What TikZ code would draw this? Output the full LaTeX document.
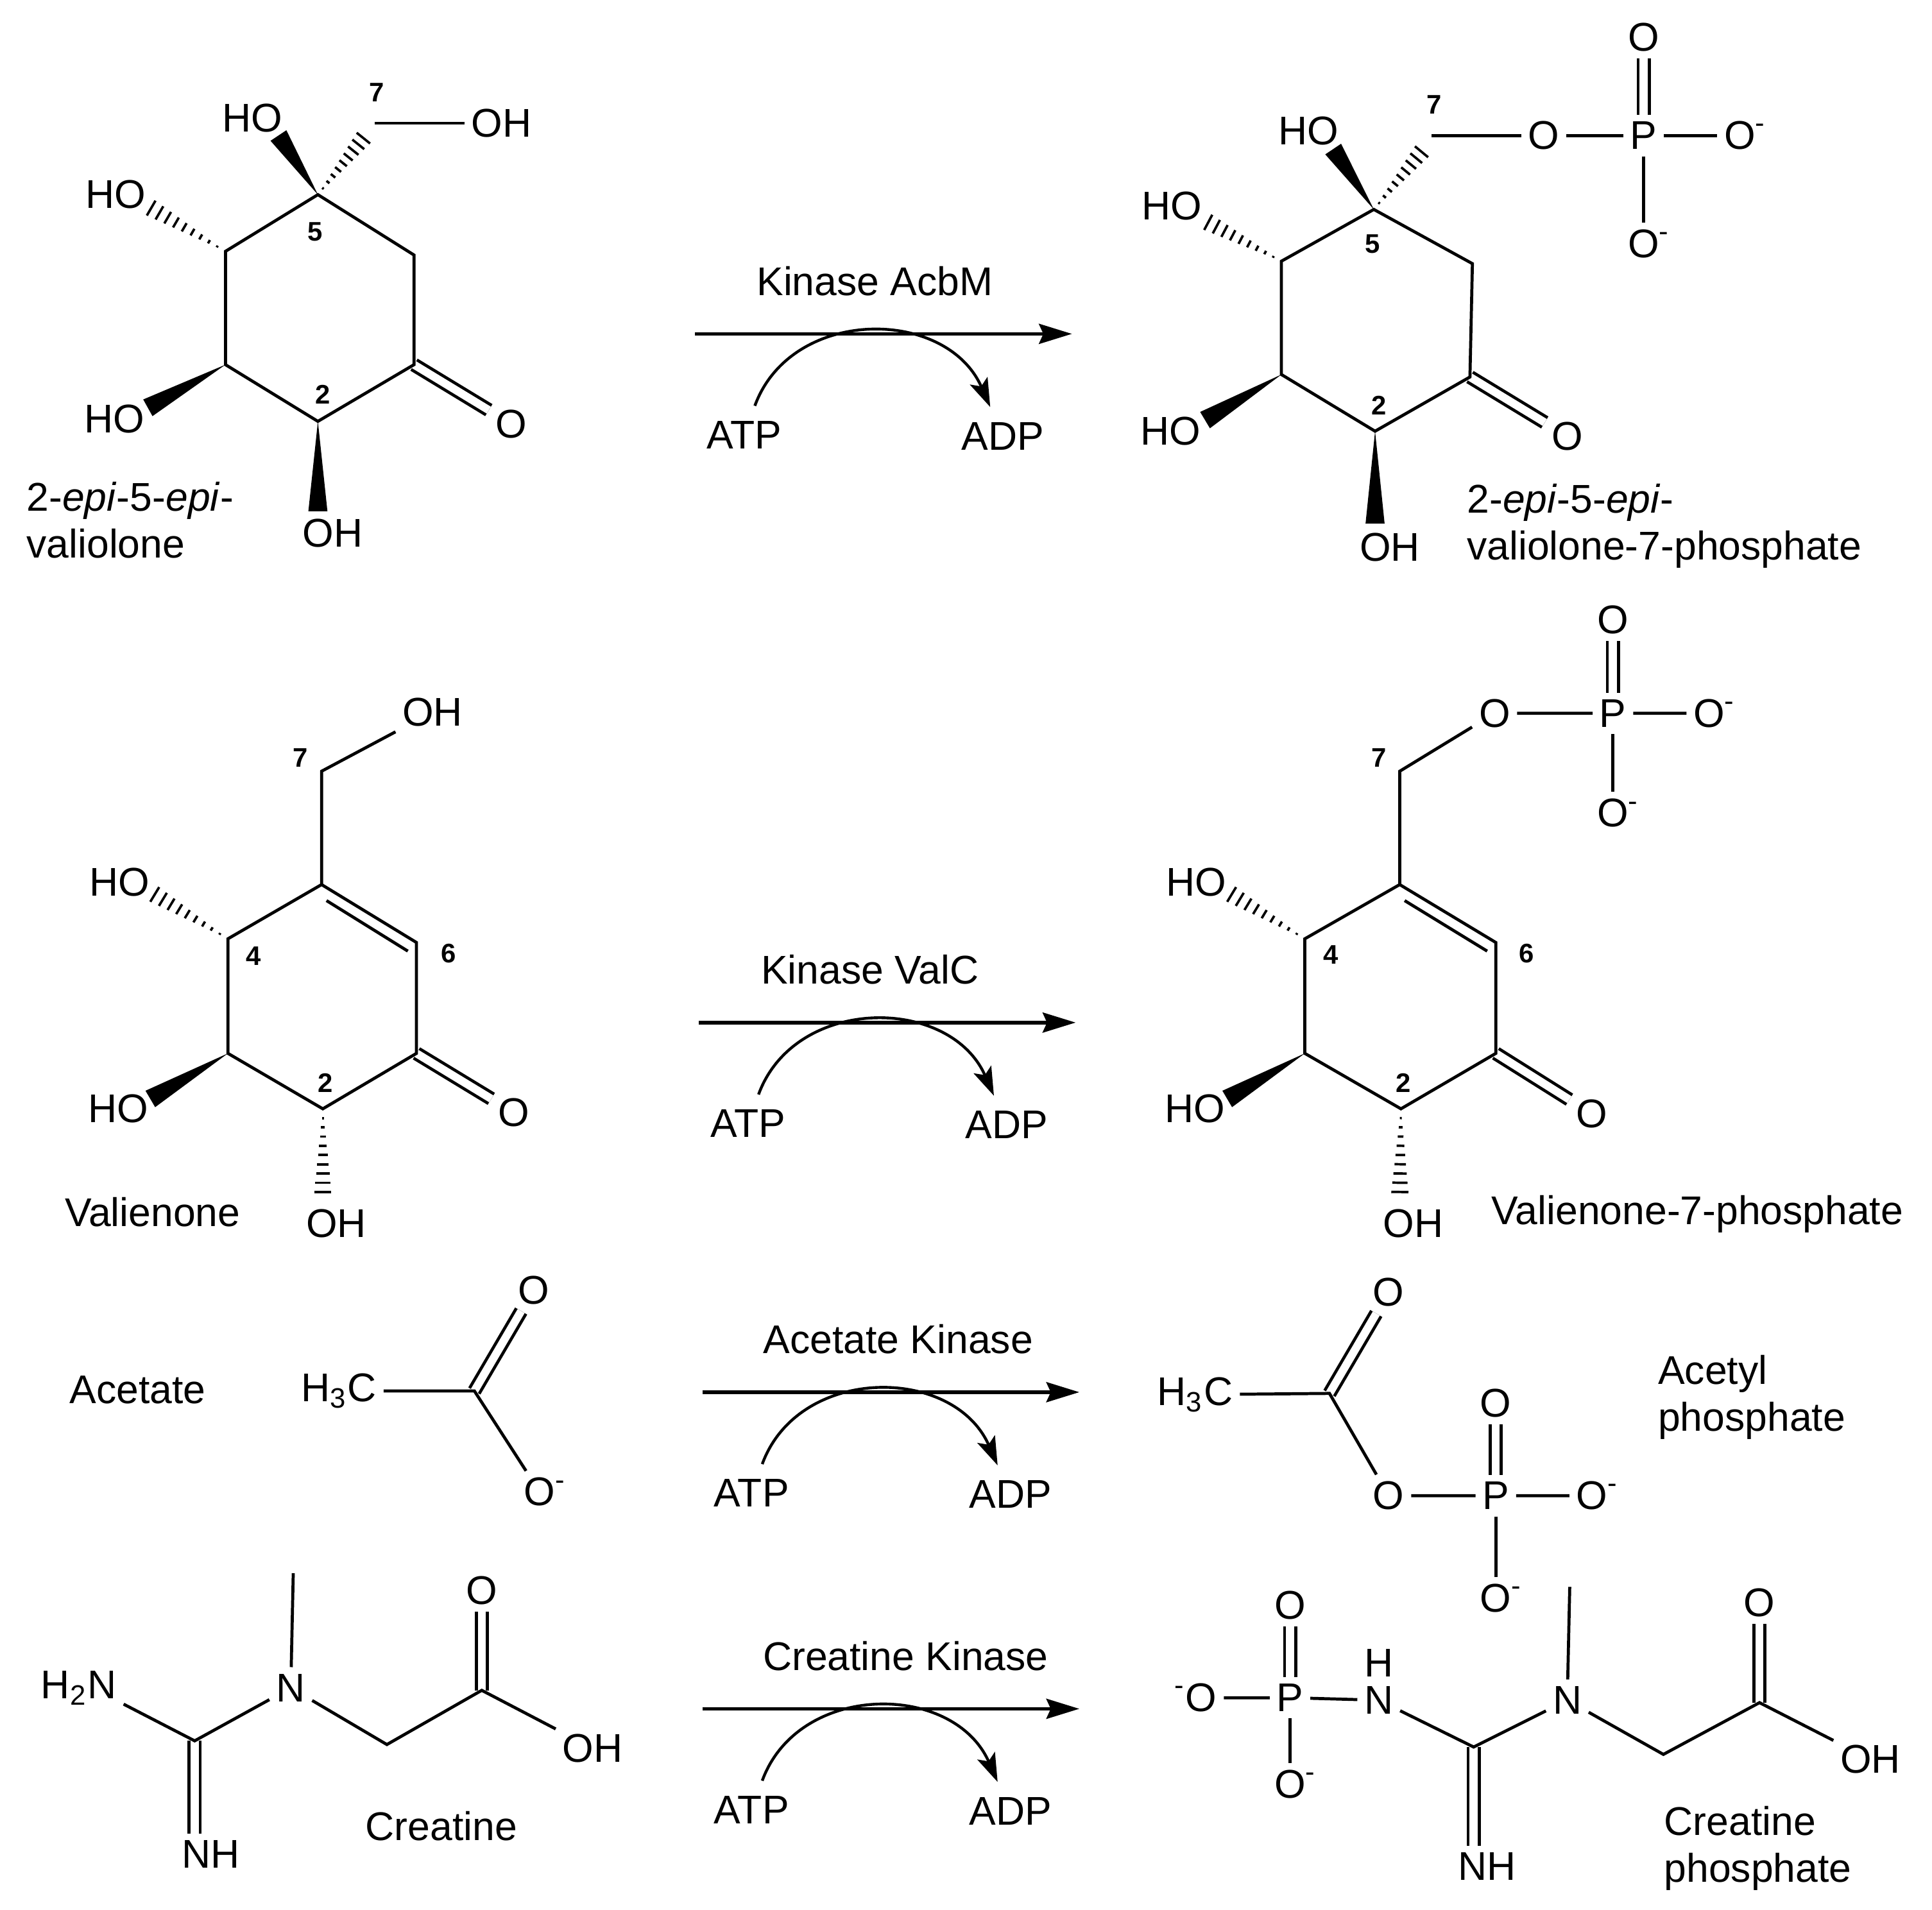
\documentclass[tikz,border=0pt]{standalone}
\usepackage{fontspec}
\setmainfont{Liberation Sans}
\usetikzlibrary{calc, arrows.meta}
\newcommand{\nega}{\rlap{\textsuperscript{-}}}
\newcommand{\negb}{\llap{\textsuperscript{-}}}
\newcommand{\solidbond}[2]{\fill (#1)--($(#2)!2.2pt!90:(#1)$)--($(#2)!2.2pt!-90:(#1)$)--cycle;}
\newcommand{\hashbond}[2]{
\foreach \f in {.1,.2,.3,.4,.5,.6,.7,.8,.9,1}
{
    \draw[hashline]($(#1)!\f!(#2)!\f*2.2pt!90:(#2)$)--($(#1)!\f!(#2)!\f*2.2pt!-90:(#2)$);
}}
\tikzset{
    atom/.style={inner sep=1.4pt, font=\fontsize{9.25}{11}\selectfont},
    num/.style={inner sep=0pt, font=\fontsize{6.2}{7.5}\selectfont\bfseries},
    caption/.style={inner sep=0pt, anchor=west, align=left, font=\fontsize{9.25}{10.8}\selectfont},
    enzyme/.style={font=\fontsize{9.25}{11}\selectfont},
    bond/.style={line width=.7pt},
    dbond/.style={line width=.7pt, double, double distance=1.85pt},
    hashline/.style={line width=.55pt},
    reaction/.style={line width=.85pt, -{Stealth[length=7.6pt, width=4.6pt, inset=1pt]}},
    cofactor/.style={line width=.65pt, -{Stealth[length=6.6pt, width=4.4pt, inset=1.4pt]}}
}
\begin{document}
\begin{tikzpicture}[x=0.01cm, y=-0.01cm]
\useasboundingbox (0,0) rectangle (1568,1550.2);

% 2-epi-5-epi-valiolone
\foreach \n/\x/\y in {a1/336/296, a2/258/342, a3/183/296, a4/183/204, a5/258/158, a6/336/207, a7/304/100, a7h/299/107, a5w/226/110, a4w/116/165, a3w/120/331, a2w/258/415}
{
    \coordinate (\n) at (\x,\y);
}
\foreach \n/\x/\y/\t in {aoh/407/100/OH, aho1/205/96/HO, aho2/94/158/HO, aho3/93/340/HO, aoh2/270/433/OH, ao/415/344/O}
{
    \node[atom] (\n) at (\x,\y) {\t};
}
\foreach \n/\x/\y/\t in {an7/306/75/7, an5/256/188/5, an2/262/320/2}
{
    \node[num] (\n) at (\x,\y) {\t};
}
\draw[dbond](a1)--(ao);
\draw[bond](a1)--(a2)--(a3)--(a4)--(a5)--(a6)--cycle;
\draw[bond](a7)--(aoh);
\solidbond{a5}{a5w}
\solidbond{a3}{a3w}
\solidbond{a2}{a2w}
\hashbond{a5}{a7h}
\hashbond{a4}{a4w}
\node[caption] (acap) at (21,422) {2-\textit{epi}-5-\textit{epi}-\\valiolone};

% 2-epi-5-epi-valiolone-7-phosphate
\foreach \n/\x/\y in {b1/1193/306, b2/1116/350, b3/1040/304, b4/1040/212, b5/1115/170, b6/1195/214, b7/1162/110, b7h/1158/118, b5w/1082/121, b4w/974/177, b3w/978/341, b2w/1116/425}
{
    \coordinate (\n) at (\x,\y);
}
\foreach \n/\x/\y/\t in {bho1/1062/106/HO, bho2/951/167/HO, bho3/950/350/HO, boh/1128/444/OH, bo/1272/354/O, bo7/1253/110/O, bp/1334/110/P, bo1/1334/30/O, bo2/1412/110/O\nega, bo3/1334/198/O\nega}
{
    \node[atom] (\n) at (\x,\y) {\t};
}
\foreach \n/\x/\y/\t in {bn7/1164/85/7, bn5/1114/198/5, bn2/1119/329/2}
{
    \node[num] (\n) at (\x,\y) {\t};
}
\draw[dbond](b1)--(bo);
\draw[dbond](bp)--(bo1);
\draw[bond](b1)--(b2)--(b3)--(b4)--(b5)--(b6)--cycle;
\draw[bond](b7)--(bo7)--(bp)--(bo2);
\draw[bond](bp)--(bo3);
\solidbond{b5}{b5w}
\solidbond{b3}{b3w}
\solidbond{b2}{b2w}
\hashbond{b5}{b7h}
\hashbond{b4}{b4w}
\node[caption] (bcap) at (1190,427) {2-\textit{epi}-5-\textit{epi}-\\valiolone-7-phosphate};

% valienone
\foreach \n/\x/\y in {c1/338/855, c2/262/900, c3/185/855, c4/185/762, c5/261/718, c6/338/765, c7/261/626, c5i/265/731, c6i/331/772, c4w/119/722, c3w/122/892, c2w/262/975}
{
    \coordinate (\n) at (\x,\y);
}
\foreach \n/\x/\y/\t in {coh/351/578/OH, cho1/97/716/HO, cho2/96/900/HO, coh2/273/993/OH, co/417/903/O}
{
    \node[atom] (\n) at (\x,\y) {\t};
}
\foreach \n/\x/\y/\t in {cn7/244/615/7, cn4/206/776/4, cn6/364/774/6, cn2/264/879/2}
{
    \node[num] (\n) at (\x,\y) {\t};
}
\draw[dbond](c1)--(co);
\draw[bond](c1)--(c2)--(c3)--(c4)--(c5)--(c6)--cycle;
\draw[bond](c5i)--(c6i);
\draw[bond](c5)--(c7)--(coh);
\solidbond{c3}{c3w}
\hashbond{c4}{c4w}
\hashbond{c2}{c2w}
\node[caption] (ccap) at (52,984) {Valienone};

% valienone-7-phosphate
\foreach \n/\x/\y in {d1/1214/855, d2/1137/900, d3/1059/855, d4/1059/762, d5/1136/718, d6/1214/765, d7/1136/626, d5i/1140/731, d6i/1207/772, d4w/993/722, d3w/996/892, d2w/1136/975}
{
    \coordinate (\n) at (\x,\y);
}
\foreach \n/\x/\y/\t in {dho1/971/716/HO, dho2/970/900/HO, doh/1147/993/OH, do/1292/904/O, do7/1213/579/O, dp/1309/579/P, do1/1309/503/O, do2/1387/579/O\nega, do3/1309/660/O\nega}
{
    \node[atom] (\n) at (\x,\y) {\t};
}
\foreach \n/\x/\y/\t in {dn7/1119/615/7, dn4/1080/775/4, dn6/1239/774/6, dn2/1139/879/2}
{
    \node[num] (\n) at (\x,\y) {\t};
}
\draw[dbond](d1)--(do);
\draw[dbond](dp)--(do1);
\draw[bond](d1)--(d2)--(d3)--(d4)--(d5)--(d6)--cycle;
\draw[bond](d5i)--(d6i);
\draw[bond](d5)--(d7)--(do7)--(dp)--(do2);
\draw[bond](dp)--(do3);
\solidbond{d3}{d3w}
\hashbond{d4}{d4w}
\hashbond{d2}{d2w}
\node[caption] (dcap) at (1210,985.5) {Valienone-7-phosphate};

% acetate and acetyl phosphate
\coordinate (e1) at (385,1129);
\coordinate (f1) at (1079,1131);
\foreach \n/\x/\y/\t in {ech/275/1129/H\textsubscript{3}C, eo1/433/1047/O, eo2/438/1211/O\nega, fch/970/1132/H\textsubscript{3}C, fo1/1127/1049/O, fo2/1127/1214/O, fp/1214/1214/P, fo3/1214/1139/O, fo4/1292/1214/O\nega, fo5/1214/1297/O\nega}
{
    \node[atom] (\n) at (\x,\y) {\t};
}
\draw[dbond](e1)--(eo1);
\draw[bond](ech)--(e1)--(eo2);
\draw[dbond](f1)--(fo1);
\draw[dbond](fp)--(fo3);
\draw[bond](fch)--(f1)--(fo2)--(fp)--(fo4);
\draw[bond](fp)--(fo5);
\node[caption] (ecap) at (56,1128) {Acetate};
\node[caption] (fcap) at (1345,1134) {Acetyl\\phosphate};

% creatine
\foreach \n/\x/\y in {g1/158/1413, g2/314/1416, g3/391/1372, g4/238/1277}
{
    \coordinate (\n) at (\x,\y);
}
\foreach \n/\x/\y/\t in {gnh2/64/1370/H\textsubscript{2}N, gn/236/1370/N, go/391/1291/O, goh/481/1419/OH, gnh/171/1505/NH}
{
    \node[atom] (\n) at (\x,\y) {\t};
}
\draw[dbond](g3)--(go);
\draw[dbond](g1)--(g1|-gnh.north);
\draw[bond](gnh2.-20)--(g1)--(gn)--(g2)--(g3)--(goh);
\draw[bond](g4)--(gn);
\node[caption] (gcap) at (296,1482) {Creatine};

% creatine phosphate
\foreach \n/\x/\y in {h1/1196/1418, h2/1350/1424, h3/1428/1382, h4/1274/1288}
{
    \coordinate (\n) at (\x,\y);
}
\foreach \n/\x/\y/\t in {ho1/975/1378/\negb O, hp/1047/1378/P, ho2/1047/1303/O, ho3/1047/1448/O\nega, hh/1119/1350/H, hn1/1119/1380/N, hn2/1272/1380/N, ho4/1428/1301/O, hoh/1518/1428/OH, hnh/1207/1515/NH}
{
    \node[atom] (\n) at (\x,\y) {\t};
}
\draw[dbond](h3)--(ho4);
\draw[dbond](hp)--(ho2);
\draw[dbond](h1)--(h1|-hnh.north);
\draw[bond](ho1)--(hp)--(hn1)--(h1)--(hn2)--(h2)--(h3)--(hoh);
\draw[bond](hp)--(ho3);
\draw[bond](h4)--(hn2);
\node[caption] (hcap) at (1350,1500) {Creatine\\phosphate};

% reaction arrows
\foreach \r/\x/\y/\lx/\t in {1/564/271/710/Kinase AcbM, 2/567/830/706/Kinase ValC, 3/570/1130/729/Acetate Kinase, 4/570/1387/735/Creatine Kinase}
{
    \coordinate (s\r) at (\x,\y);
    \coordinate (e\r) at (\x+306,\y);
    \node[enzyme] (enz\r) at (\lx,\y-43) {\t};
    \node[enzyme] (atp\r) at (\x+40,\y+82) {ATP};
    \node[enzyme] (adp\r) at (\x+250,\y+83) {ADP};
    \draw[reaction](s\r)--(e\r);
    \draw[cofactor](atp\r) .. controls (\x+78,\y-22) and (\x+204,\y-22) .. (adp\r);
}
\end{tikzpicture}
\end{document}
